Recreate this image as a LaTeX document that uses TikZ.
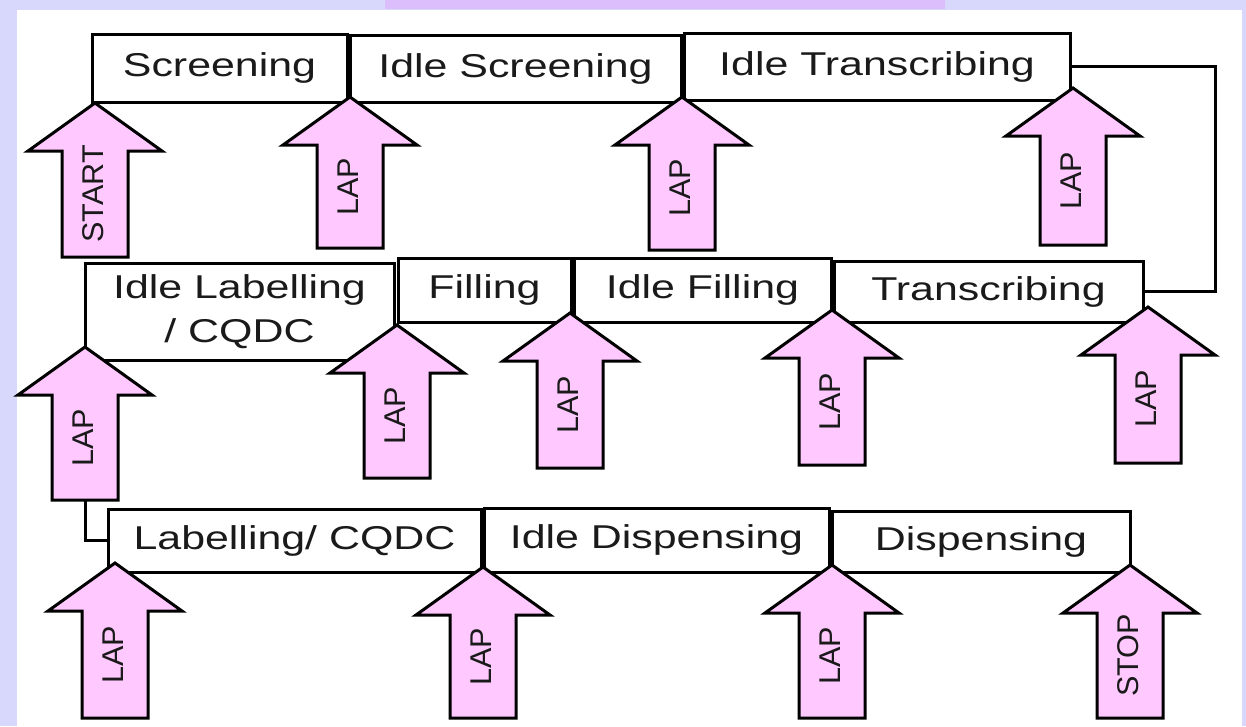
\documentclass[tikz,border=0pt]{standalone}
\usepackage{fontspec}
\usepackage{graphicx}
\setmainfont{Liberation Sans}
\newfontfamily\stagefont{Liberation Sans}[FakeStretch=1.3]
\newfontfamily\lapfont{Liberation Sans}[FakeStretch=1.02]

\definecolor{pagebg}{RGB}{216,216,252}
\definecolor{topbar}{RGB}{220,190,252}
\definecolor{lappink}{RGB}{255,200,255}
\definecolor{ink}{RGB}{26,26,26}

\tikzset{
  stage/.style={draw=black, line width=3pt, fill=white, inner sep=0pt,
    text=ink, align=center, font=\stagefont\fontsize{33}{44}\selectfont},
  blk/.style={draw=black, line width=3pt, fill=lappink, line join=miter},
  laplbl/.style={inner sep=0pt, rotate=90, text=ink,
    font=\lapfont\fontsize{30}{32}\selectfont},
  link/.style={draw=black, line width=3pt},
}

% Upward block arrow: name, tip x, tip y, foot y, label (y measured downwards)
\newcommand{\lapup}[5]{%
  \draw[blk] (#2,-#3) -- (#2+67,-#3-48) -- (#2+33,-#3-48) -- (#2+33,-#4)
    -- (#2-33,-#4) -- (#2-33,-#3-48) -- (#2-67,-#3-48) -- cycle;
  \coordinate (#1-foot) at (#2,-#4);
  \node[laplbl] (#1) at ({#2-2},{10-(#3+48+#4)/2}) {#5};
}

\begin{document}
\begin{tikzpicture}[x=1pt, y=1pt]
  % page background
  \fill[pagebg] (0,0) rectangle (1246,-726);
  \fill[white] (17,-10) rectangle (1242,-726);
  \fill[topbar] (385,0) rectangle (945,-9);
  \useasboundingbox (0,0) rectangle (1246,-726);

  % first row of stages
  \node[stage, minimum width=255, minimum height=68] (scr)  at (219.5,-68)   {Screening};
  \node[stage, minimum width=331, minimum height=67] (iscr) at (515.5,-68.5) {Idle Screening};
  \node[stage, minimum width=386, minimum height=67] (itr)  at (877,-66.5)   {Idle Transcribing};

  % second row of stages
  \node[stage, minimum width=309, minimum height=97] (ilab) at (239.5,-311.5) {Idle Labelling\\/ CQDC};
  \node[stage, minimum width=173, minimum height=64] (fil)  at (484.5,-290)   {Filling};
  \node[stage, minimum width=257, minimum height=64] (ifil) at (702.5,-290)   {Idle Filling};
  \node[stage, minimum width=309, minimum height=61] (tra)  at (988.5,-291.5) {Transcribing};

  % third row of stages
  \node[stage, minimum width=373, minimum height=63] (lab)  at (294.5,-540.5) {Labelling/ CQDC};
  \node[stage, minimum width=345, minimum height=64] (idis) at (656.5,-540)   {Idle Dispensing};
  \node[stage, minimum width=298, minimum height=61] (dis)  at (981,-541.5)   {Dispensing};

  % connector from the first row down to the second row
  \coordinate (rturn) at (1215,0);
  \draw[link] (itr.east) -- (itr.east -| rturn) -- (tra.east -| rturn) -- (tra.east);

  % timing arrows, first row
  \lapup{a1}{95}{103}{257}{START}
  \lapup{a2}{350}{97}{248}{LAP}
  \lapup{a3}{682}{97}{250}{LAP}
  \lapup{a4}{1073}{88}{245}{LAP}

  % timing arrows, second row
  \lapup{b1}{85}{347}{500}{LAP}
  \lapup{b2}{397}{325}{478}{LAP}
  \lapup{b3}{570}{313}{468}{LAP}
  \lapup{b4}{832}{310}{465}{LAP}
  \lapup{b5}{1148}{307}{463}{LAP}

  % connector from the second row down to the third row
  \draw[link] (b1-foot) |- (lab.west);

  % timing arrows, third row
  \lapup{c1}{115}{563}{718}{LAP}
  \lapup{c2}{483}{567}{718}{LAP}
  \lapup{c3}{832}{565}{718}{LAP}
  \lapup{c4}{1130}{565}{718}{STOP}
\end{tikzpicture}
\end{document}
